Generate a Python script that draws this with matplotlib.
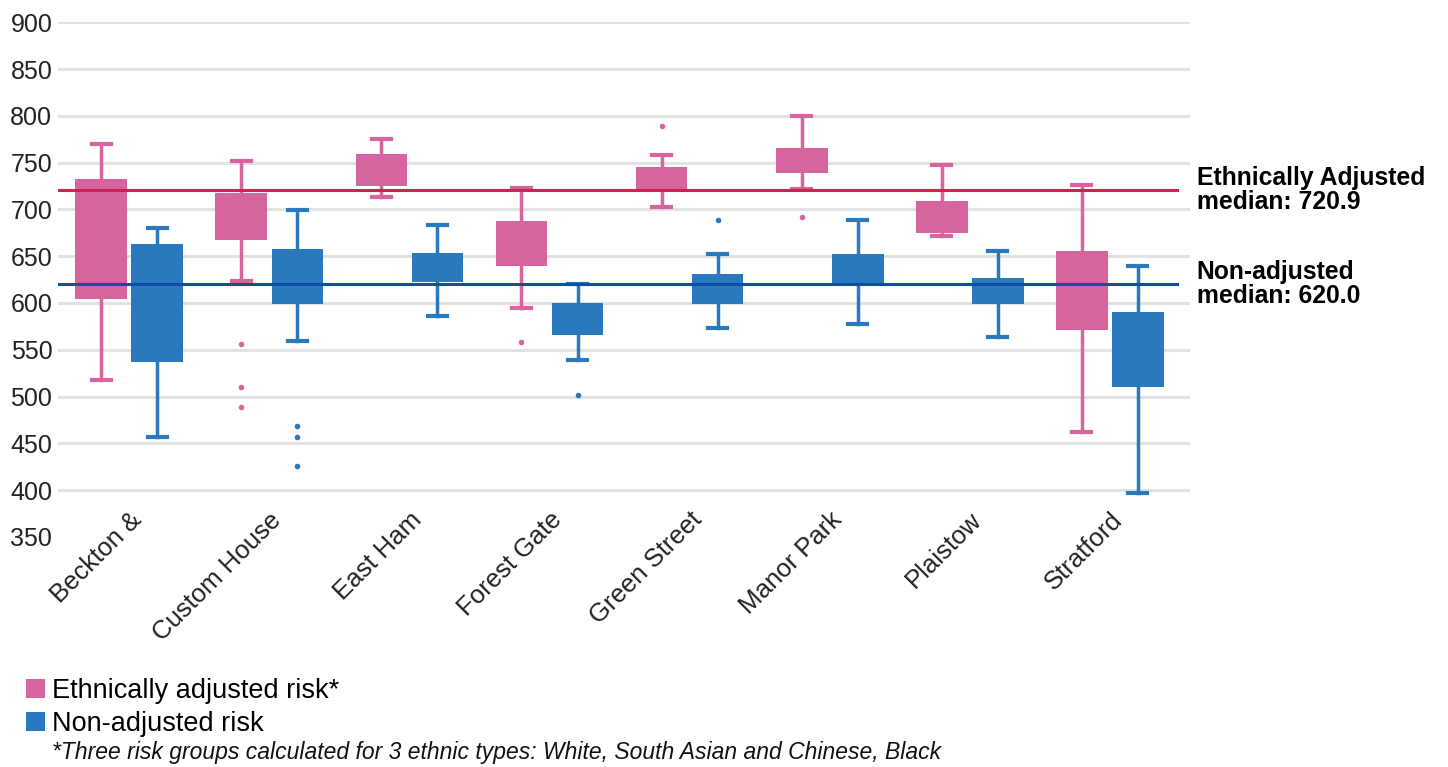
import matplotlib
matplotlib.use("Agg")
import matplotlib.pyplot as plt
from matplotlib.patches import Patch
from matplotlib.transforms import ScaledTranslation

plt.rcParams['font.family'] = ['Liberation Sans', 'DejaVu Sans']

areas = ['Beckton &', 'Custom House', 'East Ham', 'Forest Gate',
         'Green Street', 'Manor Park', 'Plaistow', 'Stratford']

# ethnically adjusted risk
adj_lo = [518, 623, 713, 595, 703, 722, 672, 462]
adj_q1 = [604, 667, 725, 639, 721, 739, 675, 571]
adj_q3 = [732, 717, 759, 688, 745, 766, 709, 656]
adj_hi = [770, 752, 775, 723, 758, 800, 747, 726]
adj_fliers = [[], [556, 510, 489], [], [558], [789], [692], [], []]

# non-adjusted risk
non_lo = [457, 559, 586, 539, 573, 578, 564, 397]
non_q1 = [537, 599, 622, 566, 599, 618, 599, 510]
non_q3 = [663, 658, 653, 600, 631, 652, 627, 590]
non_hi = [680, 699, 683, 620, 652, 689, 656, 639]
non_fliers = [[], [468, 457, 426], [], [502], [689], [], [], []]

adj_median = 720.9
non_median = 620.0

pink = '#D6649E'
blue = '#2A78BE'
red_line = '#C8254F'
blue_line = '#0D4FA0'


def make_stats(lo, q1, q3, hi, fl):
    out = []
    for a, b, c, d, f in zip(lo, q1, q3, hi, fl):
        out.append({'whislo': a, 'q1': b, 'med': b, 'q3': c, 'whishi': d, 'fliers': f})
    return out


fig = plt.figure(figsize=(14.48, 7.67), dpi=100)
ax = fig.add_axes([0.040, 0.300, 0.782, 0.671])

x = list(range(len(areas)))
off = 0.2
w = 0.37

for stats, pos, col in [(make_stats(adj_lo, adj_q1, adj_q3, adj_hi, adj_fliers), [i - off for i in x], pink),
                        (make_stats(non_lo, non_q1, non_q3, non_hi, non_fliers), [i + off for i in x], blue)]:
    ax.bxp(stats, positions=pos, widths=w, patch_artist=True, showfliers=True,
           boxprops=dict(facecolor=col, edgecolor='none', linewidth=0),
           whiskerprops=dict(color=col, linewidth=2.5),
           capprops=dict(color=col, linewidth=3),
           capwidths=w * 0.37,
           medianprops=dict(linewidth=0),
           flierprops=dict(marker='o', markerfacecolor=col, markeredgecolor='none', markersize=4))

ax.plot([-0.51, 7.48], [adj_median, adj_median], color=red_line, lw=2.2, zorder=5)
ax.plot([-0.51, 7.48], [non_median, non_median], color=blue_line, lw=2.2, zorder=5)

ax.set_xlim(-0.51, 7.575)
ax.set_ylim(350, 900)
ax.set_yticks(range(350, 901, 50))
ax.grid(axis='y', color='#E2E2E2', linewidth=2.2)
ax.yaxis.get_gridlines()[0].set_visible(False)
ax.set_axisbelow(True)
for s in ax.spines.values():
    s.set_visible(False)
ax.tick_params(axis='both', length=0, labelcolor='#222222')
ax.tick_params(axis='y', pad=4, labelsize=18)
ax.tick_params(axis='x', labelsize=18.5)

ax.set_xticks(x)
ax.set_xticklabels(areas, rotation=45, ha='right', va='top', rotation_mode='anchor')
shift = ScaledTranslation(0 / 100, 34 / 100, fig.dpi_scale_trans)
for lab in ax.get_xticklabels():
    lab.set_transform(lab.get_transform() + shift)

ax.text(7.62, adj_median, 'Ethnically Adjusted\nmedian: 720.9', fontsize=17.8, fontweight='bold',
        va='center', ha='left', linespacing=1.0, clip_on=False)
ax.text(7.62, non_median, 'Non-adjusted\nmedian: 620.0', fontsize=17.8, fontweight='bold',
        va='center', ha='left', linespacing=1.0, clip_on=False)

handles = [Patch(facecolor=pink, edgecolor='none'), Patch(facecolor=blue, edgecolor='none')]
fig.legend(handles, ['Ethnically adjusted risk*', 'Non-adjusted risk'],
           loc='upper left', bbox_to_anchor=(0.018, 1 - 678 / 767), frameon=False,
           fontsize=19.5, handlelength=0.7, handleheight=0.7, handletextpad=0.25,
           labelspacing=0.25, borderaxespad=0, borderpad=0)

fig.text(0.036, 1 - 752 / 767, '*Three risk groups calculated for 3 ethnic types: White, South Asian and Chinese, Black',
         fontsize=16.5, style='italic', va='center', ha='left', color='#111111')

fig.savefig('out.png', dpi=100)
